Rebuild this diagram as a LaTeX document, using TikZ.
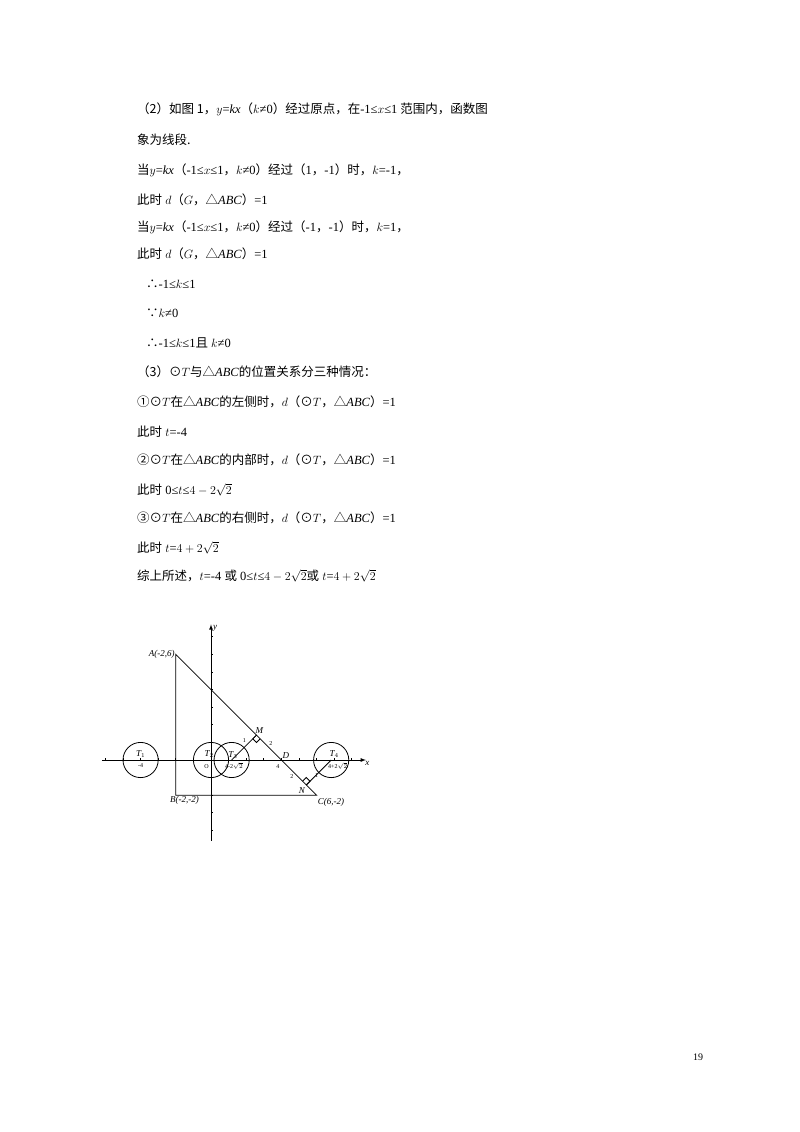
\documentclass[tikz,border=0pt]{standalone}
\usepackage{fontspec}
\setmainfont{Liberation Serif}
\newfontfamily\cjk{Noto Sans CJK SC}
\newcommand\zh[1]{{\cjk #1}}
\usetikzlibrary{calc}
\begin{document}
\begin{tikzpicture}[x=1pt,y=-1pt,
 line/.style={anchor=west,font=\fontsize{12.5}{14}\selectfont,inner sep=0pt},
 lab/.style={font=\fontsize{9}{10}\selectfont\itshape,inner sep=1pt},
 tiny/.style={font=\fontsize{6}{7}\selectfont,inner sep=0.5pt},
 g/.style={line width=0.8pt}]
\useasboundingbox (0,0) rectangle (800,1132);
\fill[white] (0,0) rectangle (800,1132);
\node[line] (l1) at (137,109) {\zh{（2）如图 1，}$y$={\itshape kx}\zh{（}$k$≠0\zh{）经过原点，在}-1≤$x$≤1 \zh{范围内，函数图}};
\node[line] (l2) at (137,140) {\zh{象为线段.}};
\node[line] (l3) at (137,170) {\zh{当}$y$={\itshape kx}\zh{（}-1≤$x$≤1\zh{，}$k$≠0\zh{）经过（}1\zh{，}-1\zh{）时，}$k$=-1\zh{，}};
\node[line] (l4) at (137,200) {\zh{此时} $d$\zh{（}$G$\zh{，△}{\itshape ABC}\zh{）}=1};
\node[line] (l5) at (137,227) {\zh{当}$y$={\itshape kx}\zh{（}-1≤$x$≤1\zh{，}$k$≠0\zh{）经过（}-1\zh{，}-1\zh{）时，}$k$=1\zh{，}};
\node[line] (l6) at (137,254) {\zh{此时} $d$\zh{（}$G$\zh{，△}{\itshape ABC}\zh{）}=1};
\node[line] (l7) at (146,284) {\zh{∴}-1≤$k$≤1};
\node[line] (l8) at (146,313) {\zh{∵}$k$≠0};
\node[line] (l9) at (146,343) {\zh{∴}-1≤$k$≤1\zh{且} $k$≠0};
\node[line] (l10) at (137,372) {\zh{（3）⊙}$T$\zh{与△}{\itshape ABC}\zh{的位置关系分三种情况：}};
\node[line] (l11) at (137,402) {\zh{①⊙}$T$\zh{在△}{\itshape ABC}\zh{的左侧时，}$d$\zh{（⊙}$T$\zh{，△}{\itshape ABC}\zh{）}=1};
\node[line] (l12) at (137,432) {\zh{此时} $t$=-4};
\node[line] (l13) at (137,460) {\zh{②⊙}$T$\zh{在△}{\itshape ABC}\zh{的内部时，}$d$\zh{（⊙}$T$\zh{，△}{\itshape ABC}\zh{）}=1};
\node[line] (l14) at (137,490) {\zh{此时} 0≤$t$≤$4-2\sqrt{2}$};
\node[line] (l15) at (137,518) {\zh{③⊙}$T$\zh{在△}{\itshape ABC}\zh{的右侧时，}$d$\zh{（⊙}$T$\zh{，△}{\itshape ABC}\zh{）}=1};
\node[line] (l16) at (137,548) {\zh{此时} $t$=$4+2\sqrt{2}$};
\node[line] (l17) at (137,576) {\zh{综上所述，}$t$=-4 \zh{或} 0≤$t$≤$4-2\sqrt{2}$\zh{或} $t$=$4+2\sqrt{2}$};
\node[font=\fontsize{10}{12}\selectfont] (pg) at (698,1057) {19};
\begin{scope}[shift={(211,760)},x=17.6pt,y=17.6pt]
\coordinate (xl) at (-6.2,0); \coordinate (xr) at (8.8,0);
\coordinate (yb) at (0,-4.6); \coordinate (yt) at (0,7.7);
\draw[g,-{latex}] (xl) -- (xr);
\draw[g,-{latex}] (yb) -- (yt);
\foreach \i in {-6,...,8} \draw[g] (\i,0) -- (\i,0.1);
\foreach \i in {-4,...,7} \draw[g] (0,\i) -- (0.1,\i);
\node[lab,below right] (xlab) at (8.7,0) {x};
\node[lab,right] (ylab) at (0.05,7.5) {y};
\coordinate (A) at (-2,6); \coordinate (B) at (-2,-2); \coordinate (C) at (6,-2);
\draw[g] (A) -- (B) -- (C) -- cycle;
\node[lab,left] (Al) at (A) {A(-2,6)};
\node[lab,below] (Bl) at (-1.5,-2) {B(-2,-2)};
\node[lab,right] (Cl) at (6,-2.4) {C(6,-2)};
\coordinate (T1) at (-4,0); \coordinate (T2) at (0,0);
\coordinate (T3) at (1.1716,0); \coordinate (T4) at (6.8284,0);
\foreach \c in {T1,T2,T3,T4} \draw[g] (\c) circle (1);
\node[lab] (t1) at (-4,0.35) {T$_1$}; \node[tiny] (t1v) at (-4,-0.3) {-4};
\node[lab] (t2) at (-0.1,0.35) {T$_2$}; \node[tiny] (t2v) at (-0.25,-0.35) {O};
\node[lab] (t3) at (1.25,0.3) {T$_3$}; \node[tiny] (t3v) at (1.3,-0.35) {4-2$\sqrt2$};
\node[lab] (t4) at (7.0,0.35) {T$_4$}; \node[tiny] (t4v) at (7.2,-0.35) {4+2$\sqrt2$};
\coordinate (M) at (2.5858,1.4142); \coordinate (N) at (5.4142,-1.4142);
\coordinate (D) at (4,0);
\draw[g] (T3) -- (M); \draw[g] (T4) -- (N);
\draw[g] (M) -- ++(-0.21,-0.21) -- ++(0.21,-0.21) -- ++(0.21,0.21);
\draw[g] (N) -- ++(0.21,0.21) -- ++(-0.21,0.21) -- ++(-0.21,-0.21);
\node[lab,above] (Ml) at (2.75,1.45) {M};
\node[lab,below left] (Nl) at (5.4,-1.5) {N};
\node[lab,above] (Dl) at (4.25,0) {D};
\node[tiny] (d4) at (3.8,-0.35) {4};
\node[tiny] (m2) at (3.4,0.95) {2};
\node[tiny] (n2) at (4.6,-0.95) {2};
\node[tiny] (r3) at (1.9,1.1) {1};
\node[tiny] (r4) at (6.0,-0.9) {1};
\end{scope}
\end{tikzpicture}
\end{document}
